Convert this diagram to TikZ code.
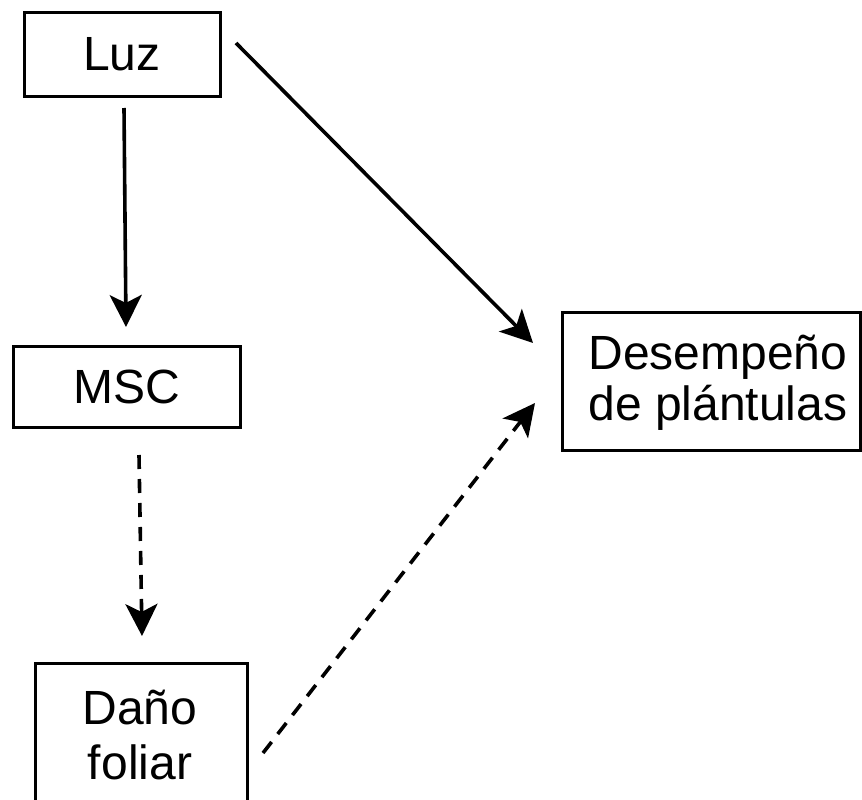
\documentclass[tikz,border=0pt]{standalone}
\usepackage{fontspec}
\setmainfont{Liberation Sans}
\usetikzlibrary{arrows.meta}
\begin{document}
\begin{tikzpicture}[x=1pt,y=-1pt,
  box/.style={draw, line width=3pt, inner sep=0pt, align=center,
    font=\fontsize{48}{52}\selectfont},
  label/.style={inner sep=0pt, align=center, font=\fontsize{48}{52}\selectfont},
  link/.style={line width=3.6pt, -{Stealth[length=32pt,width=32pt,inset=8pt]}},
  hint/.style={link, dash pattern=on 14pt off 10pt}]
\useasboundingbox (0,0) rectangle (862,800);
\clip (0,0) rectangle (862,800);
% boxes
\node[box, minimum width=196pt, minimum height=83pt] (luz) at (122,54.5) {Luz};
\node[box, minimum width=227pt, minimum height=81pt] (msc) at (126.5,386.5) {MSC};
\node[box, minimum width=212pt, minimum height=167pt] (dano) at (141,746.5) {};
\node[label, font=\fontsize{48}{55}\selectfont] (danotext) at (140,735) {Daño\\foliar};
\node[box, minimum width=298pt, minimum height=138pt] (des) at (711,381) {};
\node[label, font=\fontsize{48}{51}\selectfont] (destext) at (718,383) {Desempeño\\de plántulas};
% connector ends
\coordinate (luzS) at (124,108);
\coordinate (luzE) at (236,43);
\coordinate (mscN) at (126,327);
\coordinate (mscS) at (139,455);
\coordinate (danoN) at (142,636);
\coordinate (danoE) at (263,753);
\coordinate (desA) at (533,343);
\coordinate (desB) at (535,403);
% connectors
\draw[link] (luzS) -- (mscN);
\draw[link] (luzE) -- (desA);
\draw[hint] (mscS) -- (danoN);
\draw[hint] (danoE) -- (desB);
\end{tikzpicture}
\end{document}
